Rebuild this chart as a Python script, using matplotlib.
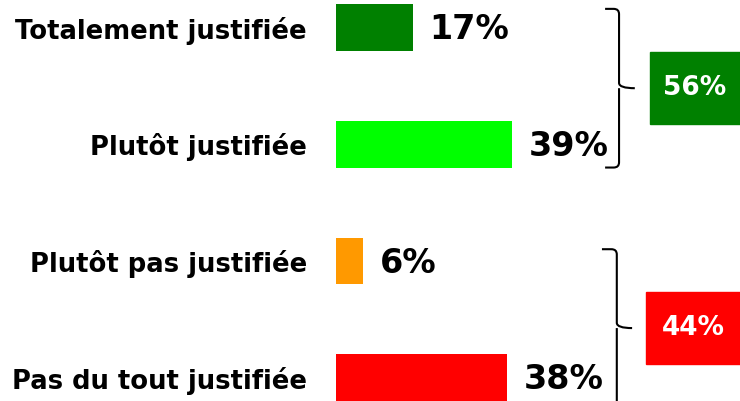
import matplotlib
matplotlib.use('Agg')
import matplotlib.pyplot as plt
from matplotlib.path import Path
from matplotlib.patches import PathPatch, Rectangle

# data
categories = ['Totalement justifiée', 'Plutôt justifiée', 'Plutôt pas justifiée', 'Pas du tout justifiée']
values = [17, 39, 6, 38]
colors = ['#008000', '#00FF00', '#FF9900', '#FF0000']
group_colors = ['#008000', '#FF0000']


def draw_bracket(ax, x0, xv, xt, ytop, ymid, ybot, rx=1.2, ry=0.045):
    # right curly bracket, drawn in data coords
    verts = [(x0, ytop), (xv - rx, ytop), (xv, ytop), (xv, ytop + ry),
             (xv, ymid - ry), (xv, ymid), (xt, ymid),
             (xv, ymid), (xv, ymid + ry),
             (xv, ybot - ry), (xv, ybot), (xv - rx, ybot), (x0, ybot)]
    codes = [Path.MOVETO, Path.LINETO, Path.CURVE3, Path.CURVE3,
             Path.LINETO, Path.CURVE3, Path.CURVE3,
             Path.MOVETO, Path.CURVE3,
             Path.LINETO, Path.CURVE3, Path.CURVE3, Path.LINETO]
    ax.add_patch(PathPatch(Path(verts, codes), fill=False, lw=1.5,
                           edgecolor='black', clip_on=False))


fig = plt.figure(figsize=(7.4, 4.01), dpi=100)
ax = fig.add_axes([336 / 740, 0, 404 / 740, 1])

pos = list(range(len(categories)))
ax.barh(pos, values, height=0.4, color=colors)
ax.set_xlim(0, 404 / 4.5)
ax.set_ylim(3.201, -0.236)

ax.set_yticks(pos)
ax.set_yticklabels(categories, fontsize=18.6, fontweight='bold')
ax.tick_params(axis='y', length=0, pad=21)
ax.set_xticks([])
for s in ax.spines.values():
    s.set_visible(False)

for p, v in zip(pos, values):
    ax.text(v + 3.8, p + 0.02, f'{v}%', va='center', ha='left',
            fontsize=24, fontweight='bold')

# group brackets and totals
groups = [(0, 1), (2, 3)]
tops = [-0.16, 1.9]
mids = [0.52, 2.576]
xs = [(59.8, 62.9, 66.4), (59.1, 62.4, 65.8)]
box_x = [69.8, 68.9]
for g, (a, b) in enumerate(groups):
    total = values[a] + values[b]
    ytop, ymid = tops[g], mids[g]
    draw_bracket(ax, *xs[g], ytop, ymid, 2 * ymid - ytop)
    ax.add_patch(Rectangle((box_x[g], ymid - 0.31), 404 / 4.5 - box_x[g], 0.62,
                           color=group_colors[g], clip_on=False))
    ax.text((box_x[g] + 404 / 4.5) / 2, ymid, f'{total}%', color='white',
            ha='center', va='center', fontsize=19, fontweight='bold')

fig.savefig('out.png', dpi=100)
